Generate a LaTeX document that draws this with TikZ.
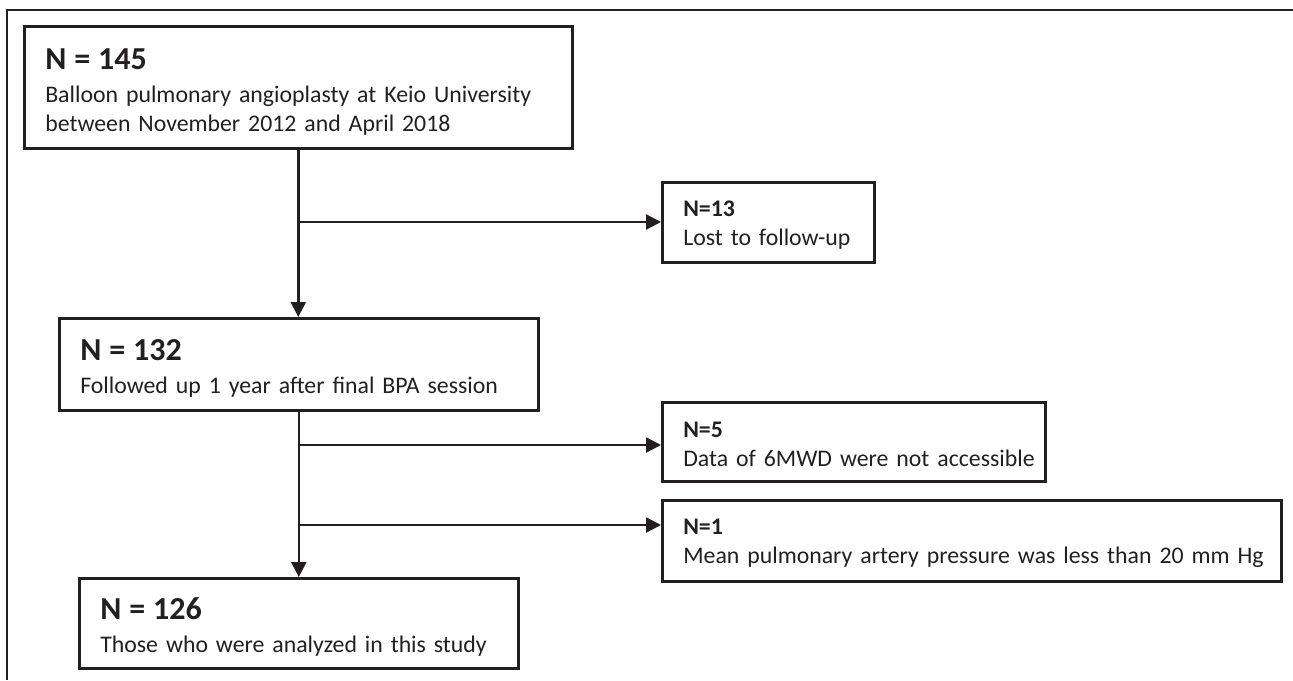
\documentclass[tikz,border=0pt]{standalone}
\usepackage{fontspec}
\setmainfont{Carlito}
\usetikzlibrary{arrows.meta,positioning}
\definecolor{ink}{HTML}{231F20}
\newcommand{\hd}[1]{{\fontsize{32}{33}\selectfont\bfseries\rule{0pt}{30pt}#1}}
\newcommand{\subhd}[1]{{\bfseries\rule{0pt}{21pt}#1}}

\begin{document}
\begin{tikzpicture}[x=1pt,y=-1pt,
  box/.style={draw=ink,line width=2.6pt,anchor=north west,align=left,
    inner xsep=0pt,inner ysep=0pt,text=ink,
    font=\fontsize{23.8}{29}\selectfont,
    execute at begin node={\leftskip=21pt}},
  arr/.style={draw=ink,line width=2.4pt,-{Triangle[length=15pt,width=15pt]}}]
\useasboundingbox (0,0) rectangle (1293,680);
\draw[ink,line width=2pt] (7,680) -- (7,10) -- (1293,10);

% main column
\node (start) at (23,25) [box,text width=548pt,minimum height=122pt]
  {\hd{N = 145}\\[4pt]Balloon pulmonary angioplasty at Keio University\\between November 2012 and April 2018};
\node (fu) at (58,317) [box,text width=479pt,minimum height=92pt]
  {\hd{N = 132}\\[4pt]Followed up 1 year after final BPA session};
\node (ana) at (78,577) [box,text width=439pt,minimum height=90pt]
  {\hd{N = 126}\\[4pt]Those who were analyzed in this study};

% exclusions
\node (lost) at (661,181) [box,text width=212pt,minimum height=80pt]
  {\subhd{N=13}\\Lost to follow-up};
\node (nodata) at (661,401) [box,text width=383pt,minimum height=79pt]
  {\subhd{N=5}\\Data of 6MWD were not accessible};
\node (lowp) at (661,499) [box,text width=619pt,minimum height=81pt]
  {\subhd{N=1}\\Mean pulmonary artery pressure was less than 20 mm Hg};

\coordinate (s1) at (297.5,222);
\coordinate (s2) at (297.5,445);
\coordinate (s3) at (297.5,525);

\draw[arr] (start.south) -- (start.south |- fu.north);
\draw[arr] (fu.south) -- (fu.south |- ana.north);
\draw[arr] (s1) -- (s1 -| lost.west);
\draw[arr] (s2) -- (s2 -| nodata.west);
\draw[arr] (s3) -- (s3 -| lowp.west);

\end{tikzpicture}
\end{document}
